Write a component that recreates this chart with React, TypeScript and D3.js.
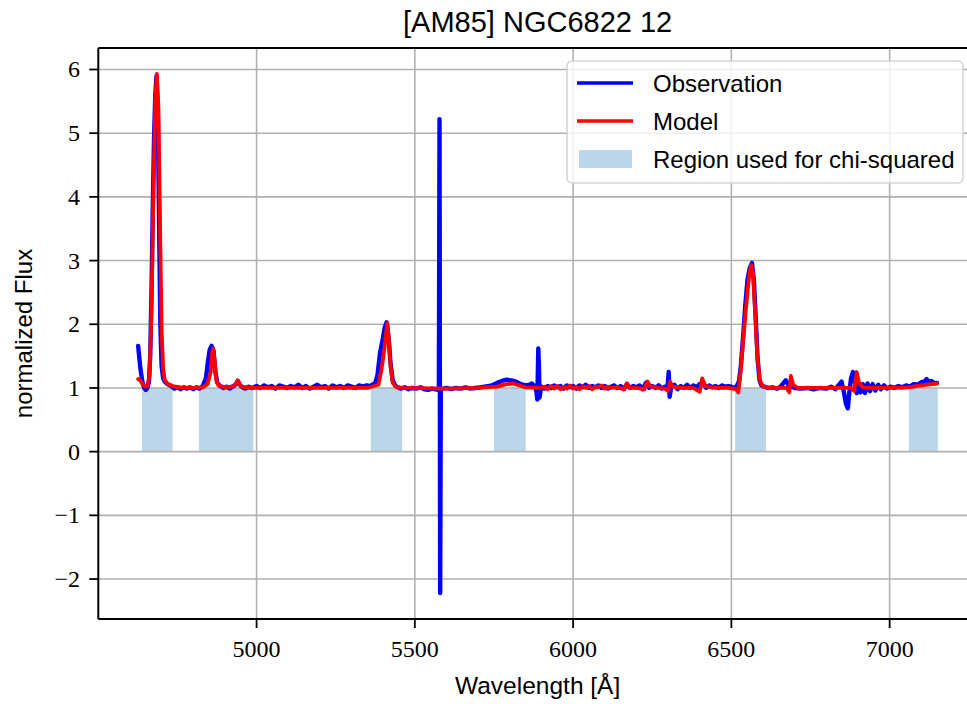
import React from "react";
import * as d3 from "d3";

const title = "[AM85] NGC6822 12";
const xLabel = "Wavelength [Å]";
const yLabel = "normalized Flux";
const xTicks = [5000, 5500, 6000, 6500, 7000];
const yTicks = [-2, -1, 0, 1, 2, 3, 4, 5, 6];
const legendLabels = ["Observation", "Model", "Region used for chi-squared"];

// chi-squared regions [start, end] in Å
const regions: [number, number][] = [
  [4638, 4735],
  [4818, 4990],
  [5361, 5460],
  [5750, 5850],
  [6512, 6609],
  [7061, 7152],
];

// Observation spectrum [wavelength, flux]
const observation: [number, number][] = [
  [4626, 1.66], [4628, 1.55], [4632, 1.35], [4636, 1.2], [4640, 1.08], [4645, 1.0], [4650, 0.97],
  [4655, 1.0], [4660, 1.1], [4664, 1.5], [4668, 2.5], [4672, 3.8], [4676, 4.9], [4680, 5.6], [4684, 5.9],
  [4688, 5.3], [4692, 3.6], [4696, 2.0], [4700, 1.35], [4705, 1.15], [4710, 1.1], [4716, 1.07],
  [4722, 1.05], [4730, 1.03], [4740, 0.99], [4750, 1.01], [4760, 0.98], [4770, 1.01], [4780, 0.99],
  [4790, 1.01], [4800, 0.98], [4810, 1.01], [4820, 0.99], [4830, 1.03], [4840, 1.15], [4846, 1.4],
  [4852, 1.6], [4858, 1.66], [4864, 1.58], [4870, 1.25], [4876, 1.08], [4885, 1.03], [4895, 1.0],
  [4905, 1.02], [4915, 0.99], [4925, 1.02], [4935, 1.06], [4941, 1.11], [4947, 1.05], [4955, 1.01],
  [4965, 0.99], [4975, 1.02], [4985, 1.0],
  [5000, 1.03], [5012, 1.0], [5024, 1.04], [5036, 1.01], [5048, 1.03], [5060, 0.99], [5072, 1.04],
  [5084, 1.02], [5096, 1.0], [5108, 1.03], [5120, 1.01], [5132, 1.05], [5144, 1.0], [5156, 1.03],
  [5168, 0.99], [5180, 1.02], [5192, 1.05], [5204, 1.01], [5216, 1.03], [5228, 0.99], [5240, 1.04],
  [5252, 1.01], [5264, 1.03], [5276, 1.0], [5288, 1.04], [5300, 1.02], [5312, 1.0], [5324, 1.04],
  [5336, 1.02], [5348, 1.04], [5360, 1.03], [5368, 1.06], [5375, 1.08], [5382, 1.2], [5390, 1.55],
  [5398, 1.75], [5405, 1.95], [5411, 2.03], [5417, 1.8], [5423, 1.4], [5430, 1.12], [5438, 1.04],
  [5446, 1.01], [5455, 0.99], [5468, 1.01], [5480, 0.98], [5492, 1.0], [5505, 0.99], [5518, 1.01],
  [5530, 0.98], [5542, 0.97], [5555, 0.99], [5565, 0.98], [5572, 0.97], [5576, 0.98], [5578, 5.22],
  [5580, -2.22], [5582, 0.97], [5590, 0.99], [5600, 1.0], [5615, 0.98], [5630, 1.0], [5645, 0.99],
  [5660, 1.01], [5675, 0.99], [5690, 1.0], [5705, 1.01], [5720, 1.02], [5735, 1.03], [5748, 1.05],
  [5760, 1.08], [5775, 1.11], [5790, 1.13], [5805, 1.12], [5820, 1.1], [5835, 1.06], [5850, 1.04],
  [5862, 1.05], [5870, 1.07], [5878, 1.03], [5884, 0.95], [5887, 0.82], [5890, 1.62], [5892, 1.35],
  [5894, 0.85], [5897, 0.95], [5900, 1.02], [5910, 0.99], [5920, 1.03], [5930, 1.0], [5940, 1.04],
  [5950, 1.01], [5960, 1.03], [5970, 0.99], [5980, 1.04], [5990, 1.01], [6000, 1.03], [6010, 0.99],
  [6020, 1.04], [6030, 1.01], [6040, 1.05], [6050, 1.0], [6060, 1.03], [6070, 1.01], [6080, 1.04],
  [6090, 1.0], [6100, 1.03], [6110, 0.99], [6120, 1.02], [6130, 1.04], [6140, 1.0], [6150, 1.03],
  [6160, 0.98], [6170, 1.06], [6180, 1.0], [6190, 1.03], [6200, 1.01], [6210, 1.04], [6220, 0.98],
  [6230, 1.08], [6240, 1.0], [6250, 1.03], [6260, 1.0], [6270, 1.04], [6280, 0.99], [6290, 1.02],
  [6298, 0.98], [6302, 1.25], [6305, 0.86], [6310, 1.02], [6320, 1.05], [6330, 0.98], [6340, 1.03],
  [6350, 1.0], [6360, 1.05], [6370, 1.0], [6380, 1.04], [6390, 1.01], [6400, 1.06], [6410, 1.08],
  [6420, 1.0], [6430, 1.04], [6440, 1.01], [6450, 1.03], [6460, 1.0], [6470, 1.04], [6480, 1.02],
  [6490, 1.03], [6500, 1.02], [6510, 1.0], [6517, 1.03], [6524, 1.1], [6530, 1.35], [6537, 1.8],
  [6544, 2.3], [6551, 2.7], [6558, 2.88], [6565, 2.96], [6571, 2.7], [6577, 2.1], [6583, 1.45],
  [6589, 1.12], [6595, 1.04], [6600, 1.03], [6615, 1.0], [6630, 1.01], [6645, 0.99], [6655, 1.02],
  [6665, 1.08], [6672, 1.12], [6680, 1.05], [6690, 1.02], [6700, 1.0], [6720, 0.99], [6740, 1.0],
  [6760, 0.98], [6780, 1.0], [6800, 0.99], [6815, 1.02], [6828, 0.98], [6840, 1.05], [6848, 1.1],
  [6856, 0.92], [6862, 0.75], [6868, 0.68], [6872, 0.9], [6878, 1.15], [6884, 1.25], [6890, 1.1],
  [6896, 0.92], [6902, 1.08], [6908, 0.93], [6915, 1.06], [6922, 0.92], [6930, 1.07], [6938, 0.95],
  [6946, 1.06], [6955, 0.96], [6964, 1.05], [6972, 0.98], [6982, 1.04], [6992, 0.99], [7002, 1.02],
  [7015, 1.0], [7028, 1.03], [7040, 1.01], [7052, 1.04], [7064, 1.02], [7076, 1.06], [7088, 1.05],
  [7100, 1.09], [7110, 1.1], [7117, 1.14], [7124, 1.09], [7132, 1.11], [7140, 1.08], [7150, 1.08],
];

// Model spectrum [wavelength, flux]
const model: [number, number][] = [
  [4626, 1.14], [4632, 1.12], [4640, 1.06], [4648, 1.02], [4655, 1.03], [4662, 1.2], [4668, 2.2],
  [4674, 4.0], [4680, 5.5], [4685, 5.93], [4690, 5.4], [4695, 3.6], [4700, 1.9], [4705, 1.3],
  [4710, 1.12], [4720, 1.06], [4735, 1.03], [4760, 1.01], [4800, 1.0], [4830, 1.01], [4845, 1.06],
  [4850, 1.15], [4855, 1.25], [4860, 1.55], [4863, 1.62], [4868, 1.4], [4873, 1.12], [4880, 1.04],
  [4900, 1.01], [4930, 1.03], [4940, 1.12], [4945, 1.08], [4952, 1.02], [4980, 1.0], [5100, 1.0],
  [5200, 1.0], [5350, 1.0], [5385, 1.05], [5395, 1.3], [5402, 1.55], [5408, 1.8], [5413, 2.02],
  [5418, 1.75], [5424, 1.3], [5430, 1.08], [5440, 1.02], [5460, 1.0], [5600, 0.99], [5700, 1.0],
  [5760, 1.02], [5790, 1.06], [5810, 1.07], [5830, 1.04], [5850, 1.01], [5900, 1.0], [5910, 1.02],
  [5920, 0.98], [5930, 1.03], [5940, 0.99], [5950, 1.03], [5960, 0.98], [5970, 1.02], [5980, 0.99],
  [5990, 1.04], [6000, 0.99], [6010, 1.02], [6020, 0.98], [6030, 1.03], [6040, 1.0], [6050, 1.03],
  [6060, 0.98], [6070, 1.02], [6080, 1.01], [6090, 1.04], [6100, 0.99], [6110, 1.02], [6120, 1.0],
  [6140, 1.01], [6160, 0.98], [6170, 1.07], [6178, 1.0], [6200, 1.0], [6225, 0.98], [6235, 1.1],
  [6245, 1.02], [6270, 1.0], [6290, 0.99], [6300, 0.95], [6306, 1.1], [6315, 1.02], [6340, 1.0],
  [6380, 1.0], [6400, 0.94], [6408, 1.15], [6418, 1.03], [6450, 1.0], [6490, 1.0], [6515, 0.98],
  [6522, 0.93], [6528, 1.2], [6535, 1.6], [6545, 2.2], [6555, 2.7], [6562, 2.93], [6568, 2.8],
  [6575, 2.2], [6582, 1.5], [6590, 1.12], [6600, 1.02], [6620, 1.0], [6660, 1.0], [6675, 1.0],
  [6683, 0.93], [6688, 1.19], [6695, 1.05], [6710, 1.0], [6800, 1.0], [6870, 1.0], [6880, 1.0],
  [6888, 0.95], [6896, 1.25], [6903, 1.08], [6915, 1.01], [6950, 1.0], [7000, 1.0], [7060, 1.01],
  [7100, 1.04], [7150, 1.07],
];

const W = 967;
const H = 704;
const M = { left: 98.3, right: 977, top: 48, bottom: 619 };

export default function App() {
  const x = d3.scaleLinear().domain([4500, 7276]).range([M.left, M.right]);
  const y = d3.scaleLinear().domain([-2.6275, 6.3375]).range([M.bottom, M.top]);
  const line = d3
    .line<[number, number]>()
    .x((d) => x(d[0]))
    .y((d) => y(d[1]));
  const serif = "'Liberation Serif', 'Times New Roman', serif";
  const sans = "'Liberation Sans', Arial, sans-serif";
  const cx = (M.left + M.right) / 2;
  return (
    <svg
      width={W}
      height={H}
      style={{ position: "absolute", left: 0, top: 0, background: "#fff" }}
    >
      <defs>
        <clipPath id="plot">
          <rect x={M.left} y={M.top} width={M.right - M.left} height={M.bottom - M.top} />
        </clipPath>
      </defs>
      <rect x={0} y={0} width={W} height={H} fill="#fff" />
      <g clipPath="url(#plot)">
        {regions.map((r, i) => (
          <rect
            key={i}
            x={x(r[0])}
            width={x(r[1]) - x(r[0])}
            y={y(1)}
            height={y(0) - y(1)}
            fill="#1f77b4"
            fillOpacity={0.3}
          />
        ))}
        {xTicks.map((t) => (
          <line key={t} x1={x(t)} x2={x(t)} y1={M.top} y2={M.bottom} stroke="#b0b0b0" strokeWidth={1.6} />
        ))}
        {yTicks.map((t) => (
          <line key={t} x1={M.left} x2={M.right} y1={y(t)} y2={y(t)} stroke="#b0b0b0" strokeWidth={1.6} />
        ))}
        <path d={line(observation) || ""} fill="none" stroke="#0000ff" strokeWidth={4.4} strokeLinejoin="round" strokeLinecap="round" />
        <path d={line(model) || ""} fill="none" stroke="#ff0000" strokeWidth={3.8} strokeLinejoin="round" strokeLinecap="round" />
      </g>
      {/* spines */}
      <line x1={M.left} x2={M.left} y1={M.top} y2={M.bottom} stroke="#000" strokeWidth={2} />
      <line x1={M.left} x2={M.right} y1={M.bottom} y2={M.bottom} stroke="#000" strokeWidth={2} />
      <line x1={M.left} x2={M.right} y1={M.top} y2={M.top} stroke="#000" strokeWidth={2} />
      {/* x ticks */}
      {xTicks.map((t) => (
        <g key={t}>
          <line x1={x(t)} x2={x(t)} y1={M.bottom} y2={M.bottom + 9} stroke="#000" strokeWidth={1.8} />
          <text x={x(t)} y={657} textAnchor="middle" fontFamily={serif} fontSize={24} fill="#000">
            {String(t)}
          </text>
        </g>
      ))}
      {/* y ticks */}
      {yTicks.map((t) => (
        <g key={t}>
          <line x1={M.left - 9} x2={M.left} y1={y(t)} y2={y(t)} stroke="#000" strokeWidth={1.8} />
          <text x={80} y={y(t) + 8} textAnchor="end" fontFamily={serif} fontSize={24} fill="#000">
            {t < 0 ? "\u2212" + Math.abs(t) : String(t)}
          </text>
        </g>
      ))}
      <text x={cx} y={32} textAnchor="middle" fontFamily={sans} fontSize={29} fill="#000">
        {title}
      </text>
      <text x={cx} y={694} textAnchor="middle" fontFamily={sans} fontSize={24.5} fill="#000">
        {xLabel}
      </text>
      <text
        transform={`translate(32, ${(M.top + M.bottom) / 2}) rotate(-90)`}
        textAnchor="middle"
        fontFamily={sans}
        fontSize={24}
        fill="#000"
      >
        {yLabel}
      </text>
      {/* legend */}
      <g>
        <rect x={567} y={61} width={396} height={122} rx={5} fill="#fff" fillOpacity={0.8} stroke="#cccccc" strokeOpacity={0.8} strokeWidth={1.6} />
        <line x1={577} x2={633} y1={83} y2={83} stroke="#0000ff" strokeWidth={3.4} />
        <line x1={577} x2={633} y1={121} y2={121} stroke="#ff0000" strokeWidth={3.4} />
        <rect x={579} y={150} width={53} height={18} fill="#1f77b4" fillOpacity={0.3} />
        <text x={653} y={92} fontFamily={sans} fontSize={24} fill="#000">{legendLabels[0]}</text>
        <text x={653} y={130} fontFamily={sans} fontSize={24} fill="#000">{legendLabels[1]}</text>
        <text x={653} y={168} fontFamily={sans} fontSize={24} fill="#000">{legendLabels[2]}</text>
      </g>
    </svg>
  );
}
